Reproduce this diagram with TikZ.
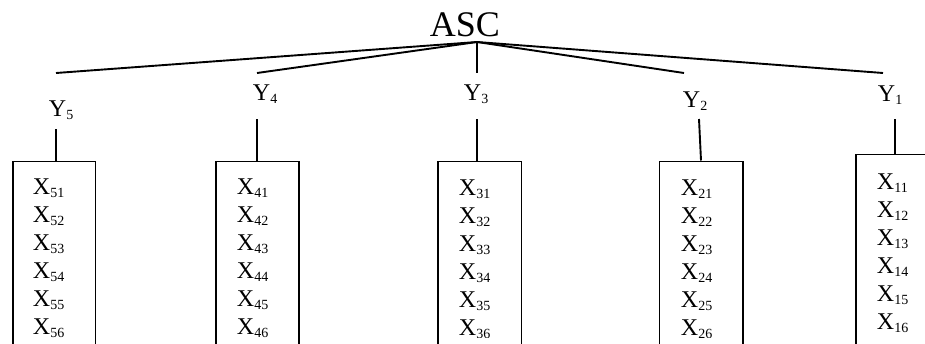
\documentclass[tikz,border=0pt]{standalone}
\usepackage{fontspec}
\setmainfont{Liberation Serif}
\newcommand{\sbx}[2]{#1\raisebox{-3pt}{\fontsize{14}{14}\selectfont #2}}
\begin{document}
\begin{tikzpicture}[x=1pt,y=-1pt,line width=1.9pt,
  lbl/.style={inner sep=0pt, anchor=base west, font=\fontsize{24}{24}\selectfont},
  boxst/.style={draw, line width=1.9pt, inner sep=0pt, anchor=north west, minimum width=#1, minimum height=220pt},
  conn/.style={line width=1.9pt}]
\useasboundingbox (0,0) rectangle (925,343);
\begin{scope}
\clip (0,0) rectangle (925,343);
% root
\node[inner sep=0pt, anchor=base, font=\fontsize{36}{36}\selectfont] (asc) at (465,36) {ASC};
\coordinate (apex) at (477,42);
\coordinate (e5) at (56,73);
\coordinate (e4) at (257,73);
\coordinate (e3) at (477,73);
\coordinate (e2) at (684,73);
\coordinate (e1) at (883,73);
\foreach \k in {1,...,5} {\draw[conn] (apex) -- (e\k);}
% Y labels
\node[lbl] (y5) at (48,116) {\sbx{Y}{5}};
\node[lbl] (y4) at (252,100.5) {\sbx{Y}{4}};
\node[lbl] (y3) at (463,100) {\sbx{Y}{3}};
\node[lbl] (y2) at (682,107) {\sbx{Y}{2}};
\node[lbl] (y1) at (877,101.5) {\sbx{Y}{1}};
% boxes
\node[boxst=82.5pt] (b5) at (12,160.5) {};
\node[boxst=83pt] (b4) at (215,160.5) {};
\node[boxst=83.5pt] (b3) at (437,160.5) {};
\node[boxst=83.5pt] (b2) at (658.5,160.5) {};
\node[boxst=110pt] (b1) at (855,153.5) {};
% stems
\coordinate (s5) at (56,129);
\coordinate (s4) at (257,119);
\coordinate (s3) at (477,119);
\coordinate (s2) at (699,119);
\coordinate (s1) at (895,119);
\draw[conn] (s5) -- (s5 |- b5.north);
\draw[conn] (s4) -- (s4 |- b4.north);
\draw[conn] (s3) -- (s3 |- b3.north);
\draw[conn] (s2) -- ([xshift=2pt]s2 |- b2.north);
\draw[conn] (s1) -- (s1 |- b1.north);
% box 1 contents
\foreach \i in {1,...,6} {
  \node[lbl] (x1\i) at ({876},{189+28*(\i-1)}) {\sbx{X}{1\i}};
}
\end{scope}
\begin{scope}
\clip (0,0) rectangle (925,337);
\foreach \i in {1,...,6} {
  \node[lbl] (x5\i) at ({32},{194+28*(\i-1)}) {\sbx{X}{5\i}};
  \node[lbl] (x4\i) at ({236},{194+28*(\i-1)}) {\sbx{X}{4\i}};
  \node[lbl] (x3\i) at ({458},{195+28*(\i-1)}) {\sbx{X}{3\i}};
  \node[lbl] (x2\i) at ({680},{195+28*(\i-1)}) {\sbx{X}{2\i}};
}
\end{scope}
\end{tikzpicture}
\end{document}
